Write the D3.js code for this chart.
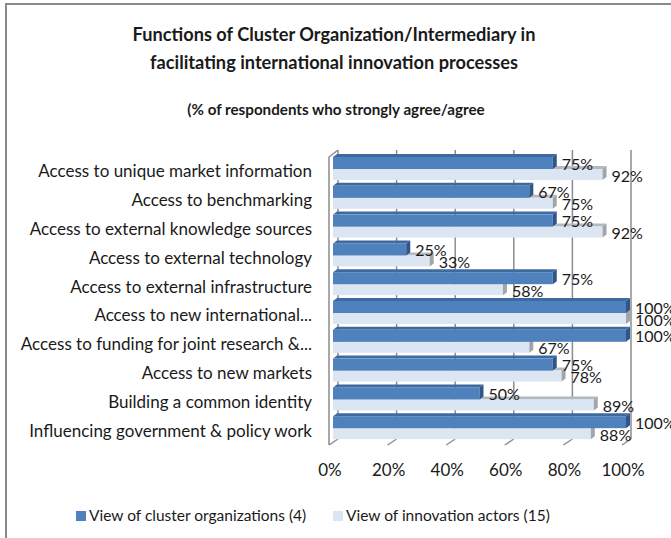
<!DOCTYPE html>
<html>
<head>
<meta charset="utf-8">
<script src="https://cdn.jsdelivr.net/npm/d3@7"></script>
<style>
  body { margin: 0; background: #fff; }
  svg text { font-family: Lato, "Liberation Sans", sans-serif; fill: #1a1a1a; }
</style>
</head>
<body>
<div id="chart"></div>
<script>
// data
var categories = [
  "Access to unique market information",
  "Access to benchmarking",
  "Access to external knowledge sources",
  "Access to external technology",
  "Access to external infrastructure",
  "Access to new international...",
  "Access to funding for joint research &...",
  "Access to new markets",
  "Building a common identity",
  "Influencing government & policy work"
];
var clusterOrgs = [75, 67, 75, 25, 75, 100, 100, 75, 50, 100];
var innovationActors = [92, 75, 92, 33, 58, 100, 67, 78, 89, 88];
var seriesNames = ["View of cluster organizations (4)", "View of innovation actors (15)"];
var tickValues = [0, 20, 40, 60, 80, 100];

var width = 671, height = 538;

var svg = d3.select("#chart")
  .append("svg")
    .attr("width", width)
    .attr("height", height);

// frame (only top and left show inside the picture)
svg.append("path")
  .attr("d", "M6,538 L6,4 L671,4")
  .attr("fill", "none")
  .attr("stroke", "#8a8a8a")
  .attr("stroke-width", 2);

// titles
svg.append("text")
  .attr("x", 334).attr("y", 41)
  .attr("text-anchor", "middle")
  .style("font-size", "18.2px").style("font-weight", "bold")
  .text("Functions of Cluster Organization/Intermediary in");
svg.append("text")
  .attr("x", 334).attr("y", 69)
  .attr("text-anchor", "middle")
  .style("font-size", "18.2px").style("font-weight", "bold")
  .text("facilitating international innovation processes");
svg.append("text")
  .attr("x", 336).attr("y", 115)
  .attr("text-anchor", "middle")
  .style("font-size", "15.2px").style("font-weight", "bold")
  .text("(% of respondents who strongly agree/agree");

// scales
var x = d3.scaleLinear().domain([0, 100]).range([333, 626]);
var y = d3.scaleBand().domain(categories).range([153, 441]);

// 3d offsets
var wallDx = 9, wallDy = -6;   // wall depth (front plane -> back plane)
var barDx = 4, barDy = -3;     // bar depth
var frontShift = -4;           // front plane relative to bar face

var top0 = 150, bottom0 = 445;

// back wall gridlines
svg.append("g")
  .selectAll("line")
  .data(tickValues)
  .enter()
  .append("line")
    .attr("x1", function(d) { return x(d) + frontShift + wallDx; })
    .attr("x2", function(d) { return x(d) + frontShift + wallDx; })
    .attr("y1", top0)
    .attr("y2", bottom0 + wallDy)
    .attr("stroke", "#8c8c8c")
    .attr("stroke-width", 1.5);

// left wall front edge + top corner
svg.append("path")
  .attr("d", "M" + (x(0) + frontShift) + "," + bottom0 +
             " L" + (x(0) + frontShift) + "," + (top0 - wallDy + 1) +
             " L" + (x(0) + frontShift + wallDx) + "," + top0)
  .attr("fill", "none")
  .attr("stroke", "#8c8c8c")
  .attr("stroke-width", 1.5);

// floor ticks (diagonal)
svg.append("g")
  .selectAll("line")
  .data(tickValues)
  .enter()
  .append("line")
    .attr("x1", function(d) { return x(d) + frontShift; })
    .attr("y1", bottom0)
    .attr("x2", function(d) { return x(d) + frontShift + wallDx; })
    .attr("y2", bottom0 + wallDy)
    .attr("stroke", "#8c8c8c")
    .attr("stroke-width", 1.5);

// tick labels
svg.append("g")
  .selectAll("text")
  .data(tickValues)
  .enter()
  .append("text")
    .attr("x", function(d) { return x(d) - 3; })
    .attr("y", 476)
    .attr("text-anchor", "middle")
    .style("font-size", "17px")
    .text(function(d) { return d + "%"; });

// category labels
svg.append("g")
  .selectAll("text")
  .data(categories)
  .enter()
  .append("text")
    .attr("x", 312)
    .attr("y", function(d) { return y(d) + y.bandwidth() / 2 + 4; })
    .attr("dy", "0.35em")
    .attr("text-anchor", "end")
    .style("font-size", "17px")
    .text(function(d) { return d; });

// one 3d bar: front face, top face, side face
function bar3d(g, v, y0, h, col) {
  var x0 = x(0), x1 = x(v);
  g.append("path")
    .attr("d", "M" + x0 + "," + y0 + " L" + (x0 + barDx) + "," + (y0 + barDy) +
               " L" + (x1 + barDx) + "," + (y0 + barDy) + " L" + x1 + "," + y0 + "Z")
    .attr("fill", col.top);
  g.append("rect")
    .attr("x", x0).attr("y", y0)
    .attr("width", x1 - x0).attr("height", h)
    .attr("fill", col.front);
  g.append("path")
    .attr("d", "M" + x1 + "," + y0 + " L" + (x1 + barDx) + "," + (y0 + barDy) +
               " L" + (x1 + barDx) + "," + (y0 + h + barDy) + " L" + x1 + "," + (y0 + h) + "Z")
    .attr("fill", col.side);
}

var darkCol = { front: "#4f81bd", top: "#3d6aa3", side: "#2f5688" };
var lightCol = { front: "#dce6f2", top: "#b4b9bf", side: "#a2a6ab" };

var bars = svg.append("g");
var darkH = 12, lightH = 11, darkOff = 4;

categories.forEach(function(c, i) {
  var g = bars.append("g");
  var b = y(c);
  // light bar first, dark bar sits above it
  bar3d(g, innovationActors[i], b + darkOff + darkH, lightH, lightCol);
  bar3d(g, clusterOrgs[i], b + darkOff, darkH, darkCol);
});

// value labels
var labels = svg.append("g").style("font-size", "16px");
categories.forEach(function(c, i) {
  var b = y(c);
  labels.append("text")
    .attr("x", x(clusterOrgs[i]) + 9)
    .attr("y", b + darkOff + darkH / 2 + 1)
    .attr("dy", "0.35em")
    .text(clusterOrgs[i] + "%");
  labels.append("text")
    .attr("x", x(innovationActors[i]) + 9)
    .attr("y", b + darkOff + darkH + lightH / 2 + 1.5)
    .attr("dy", "0.35em")
    .text(innovationActors[i] + "%");
});

// legend
var legend = svg.append("g").style("font-size", "15.5px");
var legendX = [76, 333];
seriesNames.forEach(function(s, i) {
  legend.append("rect")
    .attr("x", legendX[i]).attr("y", 511)
    .attr("width", 10).attr("height", 10)
    .attr("fill", i == 0 ? darkCol.front : lightCol.front);
  legend.append("text")
    .attr("x", legendX[i] + 13)
    .attr("y", 516)
    .attr("dy", "0.35em")
    .text(s);
});
</script>
</body>
</html>
